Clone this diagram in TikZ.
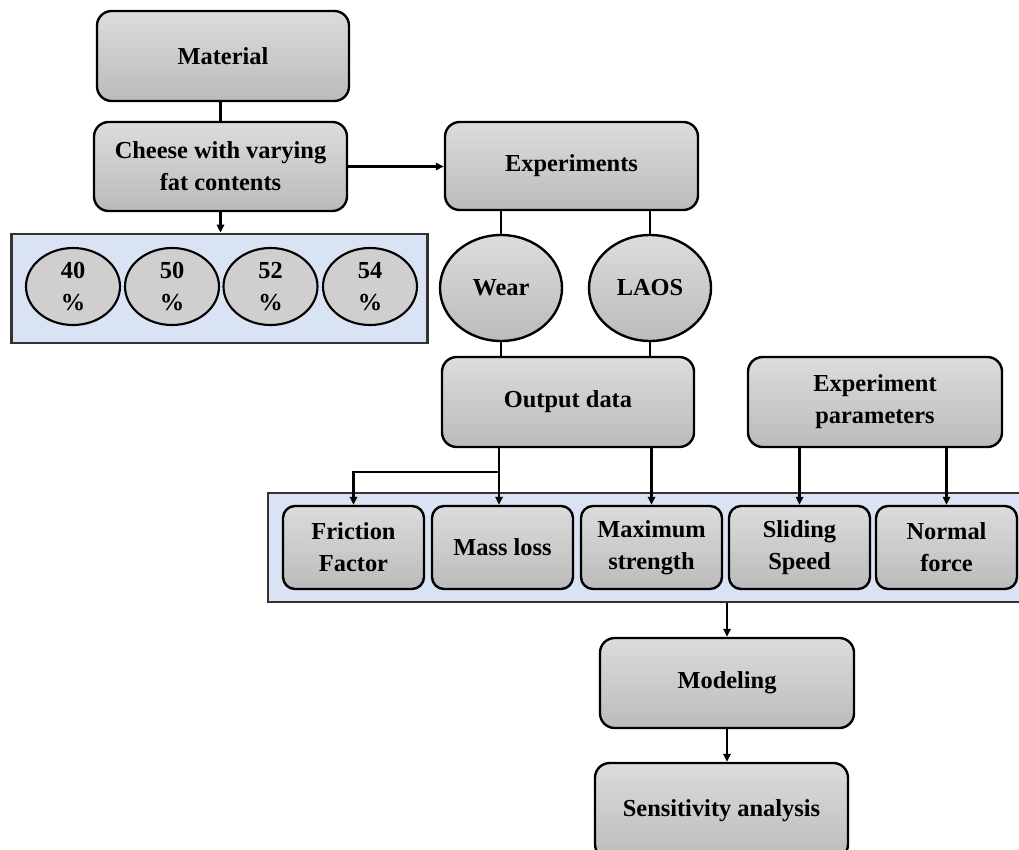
\documentclass[tikz,border=0pt]{standalone}
\usepackage{fontspec}
\setmainfont{Liberation Serif}
\usetikzlibrary{arrows.meta,shapes.geometric}
\definecolor{panelblue}{HTML}{DAE3F3}
\definecolor{paneledge}{HTML}{333333}
\definecolor{boxtop}{HTML}{DCDCDC}
\definecolor{boxbot}{HTML}{BBBBBB}
\definecolor{ellgray}{HTML}{D0CECE}
\tikzset{
  gbox/.style={draw=black, line width=1.8pt, rounded corners=11pt,
    top color=boxtop, bottom color=boxbot, align=center,
    font=\fontsize{18.3}{24}\selectfont\bfseries, inner sep=2pt},
  sbox/.style={gbox, rounded corners=9pt, minimum width=105.75pt, minimum height=62.25pt},
  gell/.style={draw=black, line width=1.8pt, ellipse, top color=boxtop, bottom color=boxbot,
    align=center, font=\fontsize{18.3}{24}\selectfont\bfseries, inner sep=0pt,
    minimum width=91.5pt, minimum height=79.5pt},
  pell/.style={draw=black, line width=1.6pt, ellipse, fill=ellgray,
    align=center, font=\fontsize{18.3}{24}\selectfont\bfseries, inner sep=0pt,
    minimum width=70.5pt, minimum height=57.75pt},
  panel/.style={draw=paneledge, fill=panelblue, line width=2pt, inner sep=0pt},
  conn/.style={draw=black, line width=1.6pt},
  arr/.style={conn, -{Triangle[length=6pt,width=5.5pt]}},
}
\begin{document}
\begin{tikzpicture}[x=0.75pt,y=-0.75pt]
\useasboundingbox (0,0) rectangle (1019,849);
% left column
\node[gbox, minimum width=189pt, minimum height=67.5pt] (mat) at (223,56) {Material};
\node[gbox, minimum width=189.75pt, minimum height=66.75pt] (cheese) at (220.5,166.5) {Cheese with varying\\fat contents};
\node[panel, minimum width=312pt, minimum height=81.75pt] (p1) at (219.5,288.5) {};
\node[pell] (e40) at (73,286.5) {40\\\%};
\node[pell] (e50) at (172,286.5) {50\\\%};
\node[pell] (e52) at (270.5,286.5) {52\\\%};
\node[pell] (e54) at (370,286.5) {54\\\%};
% experiments
\node[gbox, minimum width=189.75pt, minimum height=66pt] (exp) at (571.5,166) {Experiments};
\node[gell] (wear) at (501,288) {Wear};
\node[gell] (laos) at (650,288) {LAOS};
\node[gbox, minimum width=189pt, minimum height=67.5pt] (out) at (568,402) {Output data};
\node[gbox, minimum width=190.5pt, minimum height=67.5pt] (par) at (875,402) {Experiment\\parameters};
% panel 2
\node[panel, minimum width=571.5pt, minimum height=81.75pt] (p2) at (649,547.5) {};
\node[sbox] (fric) at (353.5,547.5) {Friction\\Factor};
\node[sbox] (mass) at (502.5,547.5) {Mass loss};
\node[sbox] (maxs) at (651.5,547.5) {Maximum\\strength};
\node[sbox] (slid) at (799.5,547.5) {Sliding\\Speed};
\node[sbox] (norm) at (946.5,547.5) {Normal\\force};
% bottom
\node[gbox, minimum width=190.5pt, minimum height=67.5pt] (mod) at (727,683) {Modeling};
\node[gbox, minimum width=189.75pt, minimum height=72pt] (sens) at (721.5,811) {Sensitivity analysis};
% connectors
\draw[conn] (cheese.north) -- (cheese.north |- mat.south);
\draw[arr] (cheese.south) -- (cheese.south |- p1.north);
\draw[arr] (cheese.east) -- (exp.west |- cheese.east);
\draw[conn] (wear.north) -- (wear.north |- exp.south);
\draw[conn] (laos.north) -- (laos.north |- exp.south);
\draw[conn] (wear.south) -- (wear.south |- out.north);
\draw[conn] (laos.south) -- (laos.south |- out.north);
\coordinate (br) at (499,472);
\draw[conn] (br |- out.south) -- (br);
\draw[arr] (br) -- (br |- mass.north);
\draw[arr] (br) -| (fric.north);
\draw[arr] (maxs.north |- out.south) -- (maxs.north);
\draw[arr] (slid.north |- par.south) -- (slid.north);
\draw[arr] (norm.north |- par.south) -- (norm.north);
\draw[arr] (mod.north |- p2.south) -- (mod.north);
\draw[arr] (mod.south) -- (mod.south |- sens.north);
\end{tikzpicture}
\end{document}
